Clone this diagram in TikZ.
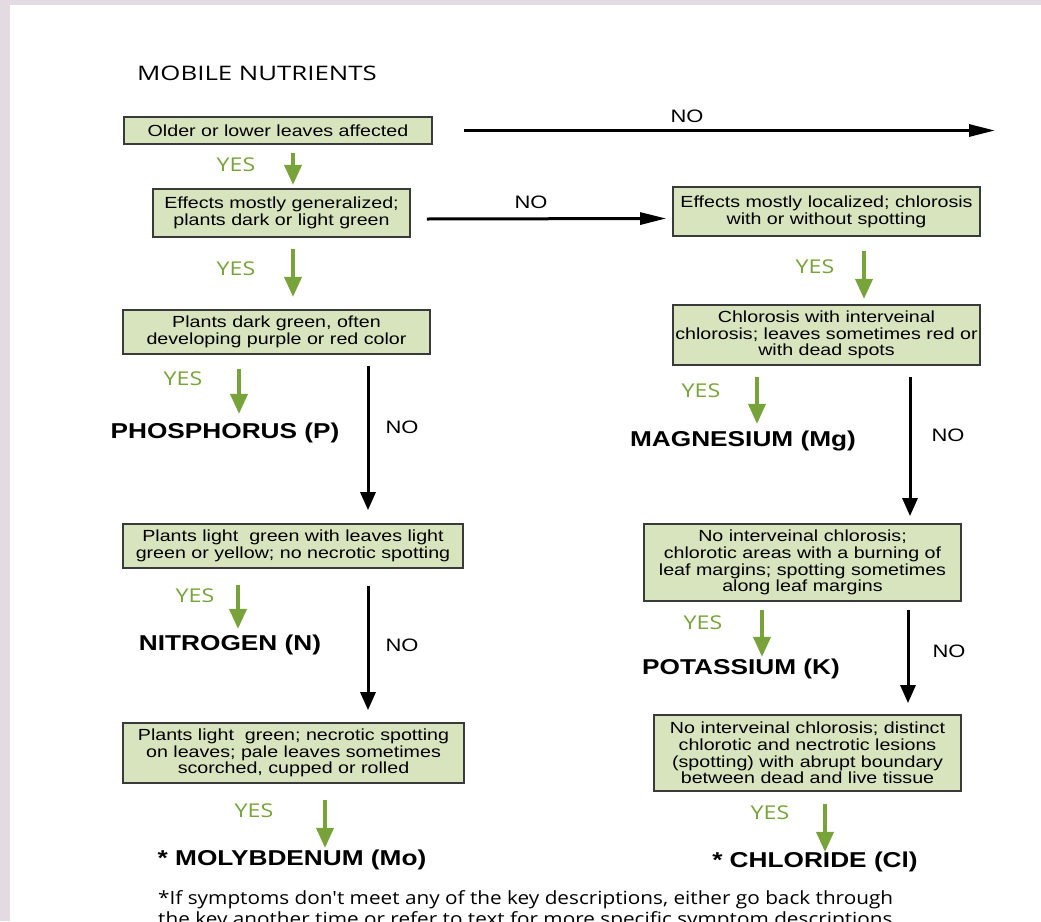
\documentclass[tikz,border=0pt]{standalone}
\usepackage{fontspec}
\setmainfont{Liberation Sans}
\newfontfamily\boxfont[FakeStretch=1.22]{Liberation Sans}
\newfontfamily\titlefont[FakeStretch=1.29]{Open Sans}
\newfontfamily\yesfont[FakeStretch=1.22]{Open Sans}
\newfontfamily\footfont[FakeStretch=1.14]{Open Sans}
\usetikzlibrary{arrows.meta}
\definecolor{bgpink}{HTML}{E4DAE2}
\definecolor{boxfill}{HTML}{D7E4BD}
\definecolor{boxline}{HTML}{3A3A3A}
\definecolor{ygreen}{HTML}{77A33A}
\begin{document}
\begin{tikzpicture}[x=1pt,y=-1pt,
  qbox/.style={draw=boxline,line width=1.8pt,fill=boxfill,inner sep=0pt,align=center,
    font=\boxfont\fontsize{16.1}{16.8}\selectfont},
  yeslbl/.style={text=ygreen,font=\yesfont\fontsize{19}{21}\selectfont,inner sep=0pt},
  nolbl/.style={font=\boxfont\fontsize{18}{20}\selectfont,inner sep=0pt},
  leaf/.style={font=\boxfont\bfseries\fontsize{21.5}{23}\selectfont,inner sep=0pt},
  garrow/.style={draw=ygreen,line width=3.8pt,-{Triangle[length=20pt,width=17pt]}},
  barrow/.style={draw=black,line width=3pt,-{Triangle[length=18pt,width=15pt]}},
  harrow/.style={draw=black,line width=3pt,-{Triangle[length=26pt,width=12pt]}}]
\useasboundingbox (0,0) rectangle (1041,921);
\fill[bgpink] (0,0) rectangle (1041,921);
\fill[white] (10,5) rectangle (1041,921);

\node[anchor=west,font=\titlefont\fontsize{20}{22}\selectfont,inner sep=0pt] (title) at (137,73) {MOBILE NUTRIENTS};

\node[qbox,minimum width=308pt,minimum height=27pt] (b1) at (278,130.5) {Older or lower leaves affected};
\node[qbox,minimum width=257pt,minimum height=48pt] (b2) at (281.5,213) {Effects mostly generalized;\\plants dark or light green};
\node[qbox,minimum width=307pt,minimum height=49pt] (b3) at (826.5,211.5) {Effects mostly localized; chlorosis\\with or without spotting};
\node[qbox,minimum width=307pt,minimum height=44pt] (b4) at (276.5,332) {Plants dark green, often\\developing purple or red color};
\node[qbox,minimum width=307pt,minimum height=60pt] (b5) at (826.5,335) {Chlorosis with interveinal\\chlorosis; leaves sometimes red or\\with dead spots};
\node[qbox,minimum width=340pt,minimum height=44pt] (b6) at (293,546) {Plants light\ \ green with leaves light\\green or yellow; no necrotic spotting};
\node[qbox,minimum width=317pt,minimum height=77pt] (b7) at (802.5,562.5) {No interveinal chlorosis;\\chlorotic areas with a burning of\\leaf margins; spotting sometimes\\along leaf margins};
\node[qbox,minimum width=341pt,minimum height=60pt] (b8) at (293.5,753) {Plants light\ \ green; necrotic spotting\\on leaves; pale leaves sometimes\\scorched, cupped or rolled};
\node[qbox,minimum width=307pt,minimum height=76pt] (b9) at (807.5,753) {No interveinal chlorosis; distinct\\chlorotic and nectrotic lesions\\(spotting) with abrupt boundary\\between dead and live tissue};

\node[leaf] (P) at (225,433) {PHOSPHORUS (P)};
\node[leaf] (Mg) at (743,441) {MAGNESIUM (Mg)};
\node[leaf] (N) at (230,645) {NITROGEN (N)};
\node[leaf] (K) at (741,669) {POTASSIUM (K)};
\node[leaf] (Mo) at (292,860) {* MOLYBDENUM (Mo)};
\node[leaf] (Cl) at (815,862) {* CHLORIDE (Cl)};

% YES labels
\node[yeslbl] (y1) at (236,165) {YES};
\node[yeslbl] (y2) at (236,269) {YES};
\node[yeslbl] (y3) at (815,267) {YES};
\node[yeslbl] (y4) at (183,379) {YES};
\node[yeslbl] (y5) at (701,391) {YES};
\node[yeslbl] (y6) at (195,596) {YES};
\node[yeslbl] (y7) at (703,623) {YES};
\node[yeslbl] (y8) at (254,811) {YES};
\node[yeslbl] (y9) at (770,813) {YES};

% NO labels
\node[nolbl] (n1) at (687,116) {NO};
\node[nolbl] (n2) at (531,202) {NO};
\node[nolbl] (n3) at (402,427) {NO};
\node[nolbl] (n4) at (948,435) {NO};
\node[nolbl] (n5) at (402,645) {NO};
\node[nolbl] (n6) at (949,651) {NO};

% green YES arrows
\draw[garrow] ([xshift=15pt,yshift=-8pt]b1.south) -- ++(0,32);
\draw[garrow] ([xshift=11.5pt,yshift=-11pt]b2.south) -- ++(0,48);
\draw[garrow] ([xshift=37.5pt,yshift=-14pt]b3.south) -- ++(0,48);
\draw[garrow] ([xshift=-37.5pt,yshift=-14pt]b4.south) -- ++(0,45);
\draw[garrow] ([xshift=-69.5pt,yshift=-11pt]b5.south) -- ++(0,47);
\draw[garrow] ([xshift=-55pt,yshift=-16pt]b6.south) -- ++(0,44);
\draw[garrow] ([xshift=-40.5pt,yshift=-8pt]b7.south) -- ++(0,47);
\draw[garrow] ([xshift=31.5pt,yshift=-16pt]b8.south) -- ++(0,48);
\draw[garrow] ([xshift=17.5pt,yshift=-12pt]b9.south) -- ++(0,48);

% black NO arrows
\coordinate (noend) at (995,130.5);
\draw[harrow] ([xshift=31pt]b1.east) -- (noend);
\draw[harrow] ([xshift=16pt,yshift=-6pt]b2.east) -- ([xshift=-6pt,yshift=-7pt]b3.west);
\draw[barrow] ([xshift=91.5pt,yshift=-11pt]b4.south) -- ([xshift=75pt,yshift=13pt]b6.north);
\draw[barrow] ([xshift=83.5pt,yshift=-11pt]b5.south) -- ([xshift=107.5pt,yshift=7pt]b7.north);
\draw[barrow] ([xshift=75pt,yshift=-17pt]b6.south) -- ([xshift=74.5pt,yshift=12pt]b8.north);
\draw[barrow] ([xshift=105.5pt,yshift=-8pt]b7.south) -- ([xshift=100.5pt,yshift=11pt]b9.north);

\node[anchor=west,align=left,font=\footfont\fontsize{18.2}{20.5}\selectfont,inner sep=0pt] (foot) at (158,910)
  {*If symptoms don't meet any of the key descriptions, either go back through\\the key another time or refer to text for more specific symptom descriptions.};
\end{tikzpicture}
\end{document}
